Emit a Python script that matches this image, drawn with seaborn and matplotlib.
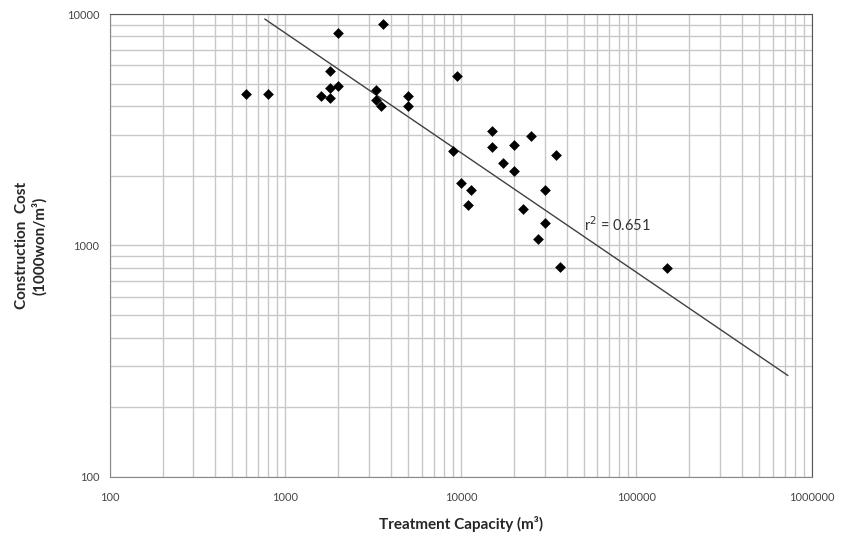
import numpy as np
import pandas as pd
import matplotlib
matplotlib.use("Agg")
import matplotlib.pyplot as plt
import seaborn as sns
from matplotlib.ticker import LogLocator, FixedLocator, NullFormatter

# values (log-log scatter)
capacity = [600, 800, 1600, 1800, 1800, 1800, 2000, 2000, 3600, 3300,
            3300, 3500, 5000, 5000, 9500, 9000, 10000, 11500, 11000, 15000,
            15000, 17500, 20000, 20000, 25000, 22500, 30000, 30000, 27500, 35000,
            36500, 150000]
cost = [4500, 4500, 4420, 5650, 4780, 4330, 4880, 8250, 9100, 4680,
        4250, 4000, 4420, 4000, 5380, 2560, 1870, 1730, 1490, 3120,
        2660, 2260, 2730, 2090, 2960, 1440, 1740, 1250, 1070, 2450,
        810, 795]

# published trend line: log10(cost) = fit_a + fit_b * log10(capacity)
fit_a = 5.469
fit_b = -0.517
fit_range = [764, 730000]
r2_label = "r$^2$ = 0.651"

df = pd.DataFrame({"capacity": capacity, "cost": cost})
xf = np.array(fit_range, dtype=float)
fit_df = pd.DataFrame({"capacity": xf, "cost": 10 ** (fit_a + fit_b * np.log10(xf))})

sns.set_style("white")
plt.rcParams["font.family"] = ["Lato", "DejaVu Sans"]

fig = plt.figure(figsize=(8.44, 5.40), dpi=100)
ax = fig.add_axes([0.130, 0.117, 0.832, 0.857])

sns.scatterplot(data=df, x="capacity", y="cost", marker="D", s=30,
                color="black", edgecolor="black", linewidth=0, ax=ax, zorder=3)
sns.lineplot(data=fit_df, x="capacity", y="cost", color="#404040", lw=1.0,
             ax=ax, zorder=2)
ax.text(50000, 1150, r2_label, fontsize=10.5, color="#333333")

ax.set_xscale("log")
ax.set_yscale("log")
ax.set_xlim(100, 1000000)
ax.set_ylim(100, 10000)

ax.xaxis.set_major_locator(FixedLocator([100, 1000, 10000, 100000, 1000000]))
ax.yaxis.set_major_locator(FixedLocator([100, 1000, 10000]))
ax.xaxis.set_minor_locator(LogLocator(base=10, subs=np.arange(2, 10)))
ax.yaxis.set_minor_locator(LogLocator(base=10, subs=np.arange(2, 10)))
ax.xaxis.set_minor_formatter(NullFormatter())
ax.yaxis.set_minor_formatter(NullFormatter())
ax.set_xticklabels(["100", "1000", "10000", "100000", "1000000"])
ax.set_yticklabels(["100", "1000", "10000"])

ax.grid(True, which="both", color="#c8c8c8", lw=1.0)
ax.set_axisbelow(True)
ax.tick_params(which="major", length=4, color="#888888", labelsize=8,
               labelcolor="#444444", direction="out")
ax.tick_params(which="minor", length=0)
ax.tick_params(axis="x", pad=7)
for side in ["left", "bottom"]:
    ax.spines[side].set_color("#888888")
for side in ["top", "right"]:
    ax.spines[side].set_color("#555555")

ax.set_xlabel("Treatment Capacity (m³)", fontsize=11, fontweight="bold", labelpad=9)
ax.set_ylabel("Construction  Cost\n(1000won/m³)", fontsize=11, fontweight="bold", labelpad=14)

fig.savefig("out.png", dpi=100)
